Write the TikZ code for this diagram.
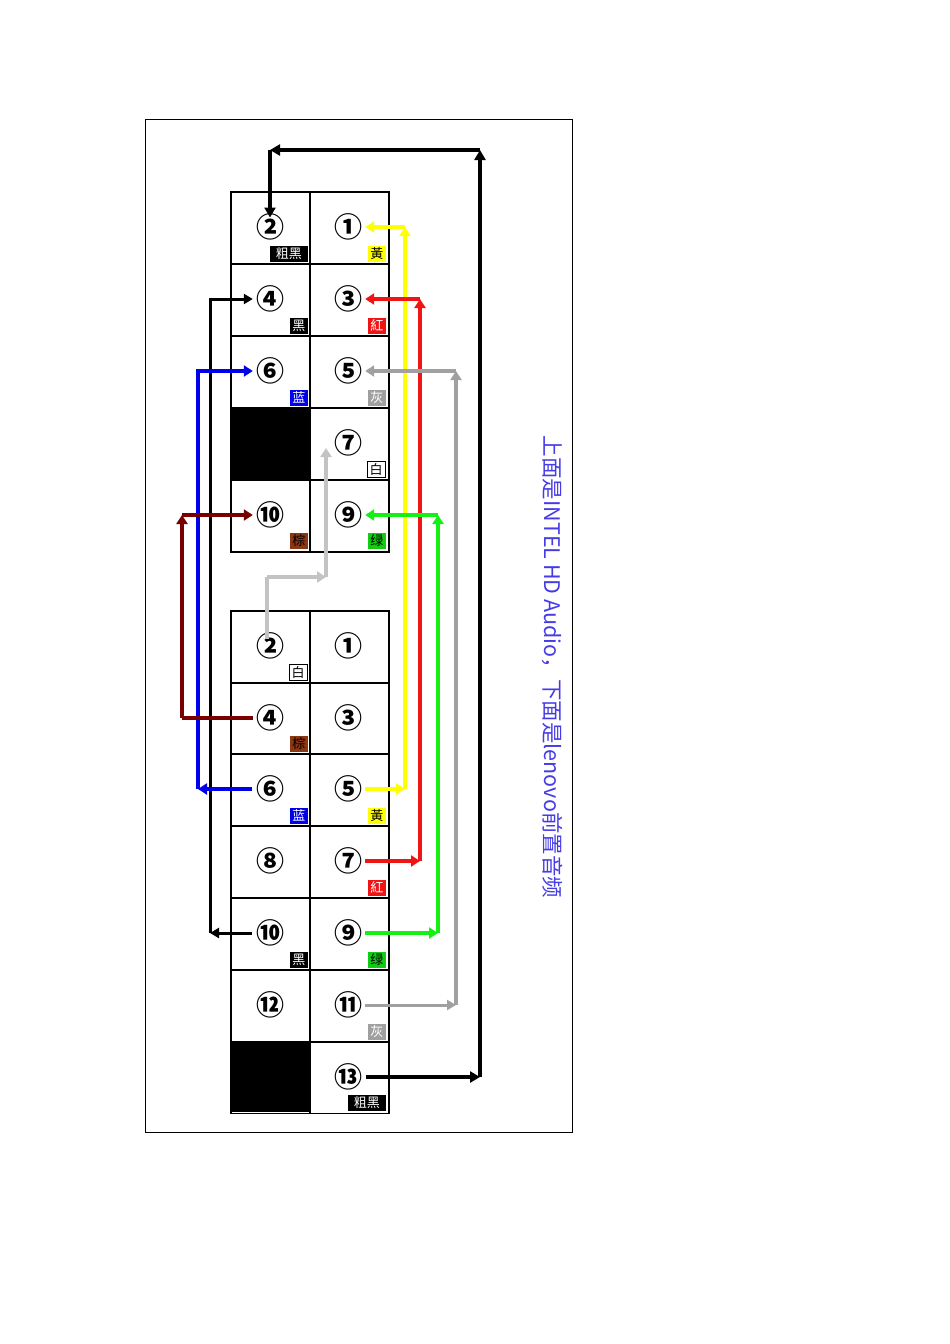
\documentclass[tikz,border=0pt]{standalone}
\usepackage{fontspec}
\newfontfamily\cjk{Noto Sans CJK SC}
\usetikzlibrary{arrows.meta}
\definecolor{myyel}{RGB}{255,255,0}
\definecolor{myred}{RGB}{240,20,20}
\definecolor{mygrn}{RGB}{20,240,20}
\definecolor{mygray}{RGB}{160,160,160}
\definecolor{mylgray}{RGB}{195,195,195}
\definecolor{mybrown}{RGB}{120,0,0}
\definecolor{mybrn}{RGB}{140,55,20}
\definecolor{myblue}{RGB}{0,0,235}
\definecolor{mytxt}{RGB}{70,60,230}
\begin{document}
\begin{tikzpicture}[x=1pt,y=-1pt,
 cell/.style={draw=black,line width=1.6pt,minimum width=79pt,minimum height=72pt,inner sep=0pt,anchor=north west},
 num/.style={font=\cjk\bfseries\fontsize{28}{28}\selectfont,inner sep=0pt},
 tag/.style={font=\cjk\fontsize{13}{13}\selectfont,inner sep=0.5pt,minimum width=18pt,minimum height=16pt,anchor=south east},
 con/.style={line width=4pt,-{Triangle[length=9pt,width=11pt]}},
 thin/.style={line width=3pt,-{Triangle[length=9pt,width=10pt]}}]
\useasboundingbox (0,0) rectangle (950,1344);
\node[draw=black,line width=0.8pt,minimum width=427pt,minimum height=1013pt,anchor=north west,inner sep=0pt] (frame) at (145,119) {};
% top grid
\foreach \r/\y in {1/191,2/263,3/335,4/407,5/479}{
 \node[cell] (tl\r) at (230,\y) {};
 \node[cell] (tr\r) at (309,\y) {};
}
\fill[black] (230,407) rectangle (309,479);
% bottom grid
\foreach \r/\y in {1/610,2/682,3/753,4/825,5/897,6/969,7/1041}{
 \node[cell,minimum height=71.5pt] (bl\r) at (230,\y) {};
 \node[cell,minimum height=71.5pt] (br\r) at (309,\y) {};
}
\fill[black] (230,1041) rectangle (309,1112);
% numbers top
\node[num] (t2) at (270,227) {②}; \node[num] (t1) at (348,227) {①};
\node[num] (t4) at (270,299) {④}; \node[num] (t3) at (348,299) {③};
\node[num] (t6) at (270,371) {⑥}; \node[num] (t5) at (348,371) {⑤};
\node[num] (t7) at (348,443) {⑦};
\node[num] (t10) at (270,515) {⑩}; \node[num] (t9) at (348,515) {⑨};
% numbers bottom
\node[num] (b2) at (270,646) {②}; \node[num] (b1) at (348,646) {①};
\node[num] (b4) at (270,718) {④}; \node[num] (b3) at (348,718) {③};
\node[num] (b6) at (270,789) {⑥}; \node[num] (b5) at (348,789) {⑤};
\node[num] (b8) at (270,861) {⑧}; \node[num] (b7) at (348,861) {⑦};
\node[num] (b10) at (270,933) {⑩}; \node[num] (b9) at (348,933) {⑨};
\node[num] (b12) at (270,1005) {⑫}; \node[num] (b11) at (348,1005) {⑪};
\node[num] (b13) at (348,1077) {⑬};
% tags top
\node[tag,fill=black,text=white,minimum width=38pt] at (308,262) {粗黑};
\node[tag,fill=myyel] at (386,262) {黃};
\node[tag,fill=black,text=white] at (308,334) {黑};
\node[tag,fill=myred,text=white] at (386,334) {紅};
\node[tag,fill=myblue,text=white] at (308,406) {蓝};
\node[tag,fill=mygray,text=white] at (386,406) {灰};
\node[tag,draw=black,line width=0.8pt,fill=white] at (385.5,477.5) {白};
\node[tag,fill=mybrn] at (308,549) {棕};
\node[tag,fill=mygrn!85!black] at (386,549) {绿};
% tags bottom
\node[tag,draw=black,line width=0.8pt,fill=white] at (307.5,680.5) {白};
\node[tag,fill=mybrn] at (308,752) {棕};
\node[tag,fill=myblue,text=white] at (308,824) {蓝};
\node[tag,fill=myyel] at (386,824) {黃};
\node[tag,fill=myred,text=white] at (386,896) {紅};
\node[tag,fill=black,text=white] at (308,968) {黑};
\node[tag,fill=mygrn!85!black] at (386,968) {绿};
\node[tag,fill=mygray,text=white] at (386,1040) {灰};
\node[tag,fill=black,text=white,minimum width=38pt] at (386,1111) {粗黑};
% black thick 13 -> top 2
\coordinate (k1) at (480,1079); \coordinate (k2) at (480,150); \coordinate (k3) at (270,150);
\draw[line width=3.5pt,-{Triangle[length=10pt,width=11pt]}] ([xshift=4pt]b13.east) -- (b13.east -| k1);
\draw[line width=3.5pt,-{Triangle[length=10pt,width=11pt]}] (b13.east -| k1) -- (k2);
\draw[line width=3.5pt,-{Triangle[length=10pt,width=11pt]}] (k2) -- (k3);
\draw[line width=3.5pt,-{Triangle[length=10pt,width=11pt]}] (k3) -- ([yshift=-4pt]t2.north);
% black thin 10 -> 4
\coordinate (a) at (210,0);
\draw[thin] ([xshift=-4pt]b10.west) -- (b10.west -| a);
\draw[thin] (b10.west -| a) -- (t4.west -| a) -- ([xshift=-3pt]t4.west);
% blue 6 -> 6
\coordinate (u) at (198,0);
\draw[con,myblue] ([xshift=-4pt]b6.west) -- (b6.west -| u);
\draw[con,myblue] (b6.west -| u) -- (t6.west -| u) -- ([xshift=-3pt]t6.west);
% brown 4 -> 10
\coordinate (w) at (182,0);
\draw[line width=4pt,mybrown] ([xshift=-3pt]b4.west) -- (b4.west -| w);
\draw[con,mybrown] (b4.west -| w) -- (t10.west -| w);
\draw[con,mybrown] (t10.west -| w) -- ([xshift=-3pt]t10.west);
% light gray 2 -> 7
\coordinate (g1) at (267,577); \coordinate (g3) at (326,448);
\draw[line width=4pt,mylgray] ([yshift=-6pt]b2.north -| g1) -- (g1);
\draw[con,mylgray] (g1) -- (g1 -| g3);
\draw[con,mylgray] (g1 -| g3) -- (g3);
% yellow 5 -> 1
\coordinate (y) at (405,0);
\draw[con,myyel] ([xshift=3pt]b5.east) -- (b5.east -| y);
\draw[con,myyel] (b5.east -| y) -- (t1.east -| y);
\draw[con,myyel] (t1.east -| y) -- ([xshift=3pt]t1.east);
% red 7 -> 3
\coordinate (r) at (420,0);
\draw[con,myred] ([xshift=3pt]b7.east) -- (b7.east -| r);
\draw[con,myred] (b7.east -| r) -- (t3.east -| r);
\draw[con,myred] (t3.east -| r) -- ([xshift=3pt]t3.east);
% green 9 -> 9
\coordinate (n) at (438,0);
\draw[con,mygrn] ([xshift=3pt]b9.east) -- (b9.east -| n);
\draw[con,mygrn] (b9.east -| n) -- (t9.east -| n);
\draw[con,mygrn] (t9.east -| n) -- ([xshift=3pt]t9.east);
% gray 11 -> 5
\coordinate (m) at (456,0);
\draw[thin,mygray] ([xshift=3pt]b11.east) -- (b11.east -| m);
\draw[con,mygray] (b11.east -| m) -- (t5.east -| m);
\draw[con,mygray] (t5.east -| m) -- ([xshift=3pt]t5.east);
% side text
\node[rotate=-90,text=mytxt,font=\cjk\fontsize{21.5}{21.5}\selectfont,inner sep=0pt] (side) at (552,667) {上面是INTEL HD Audio，下面是lenovo前置音频};
\end{tikzpicture}
\end{document}
